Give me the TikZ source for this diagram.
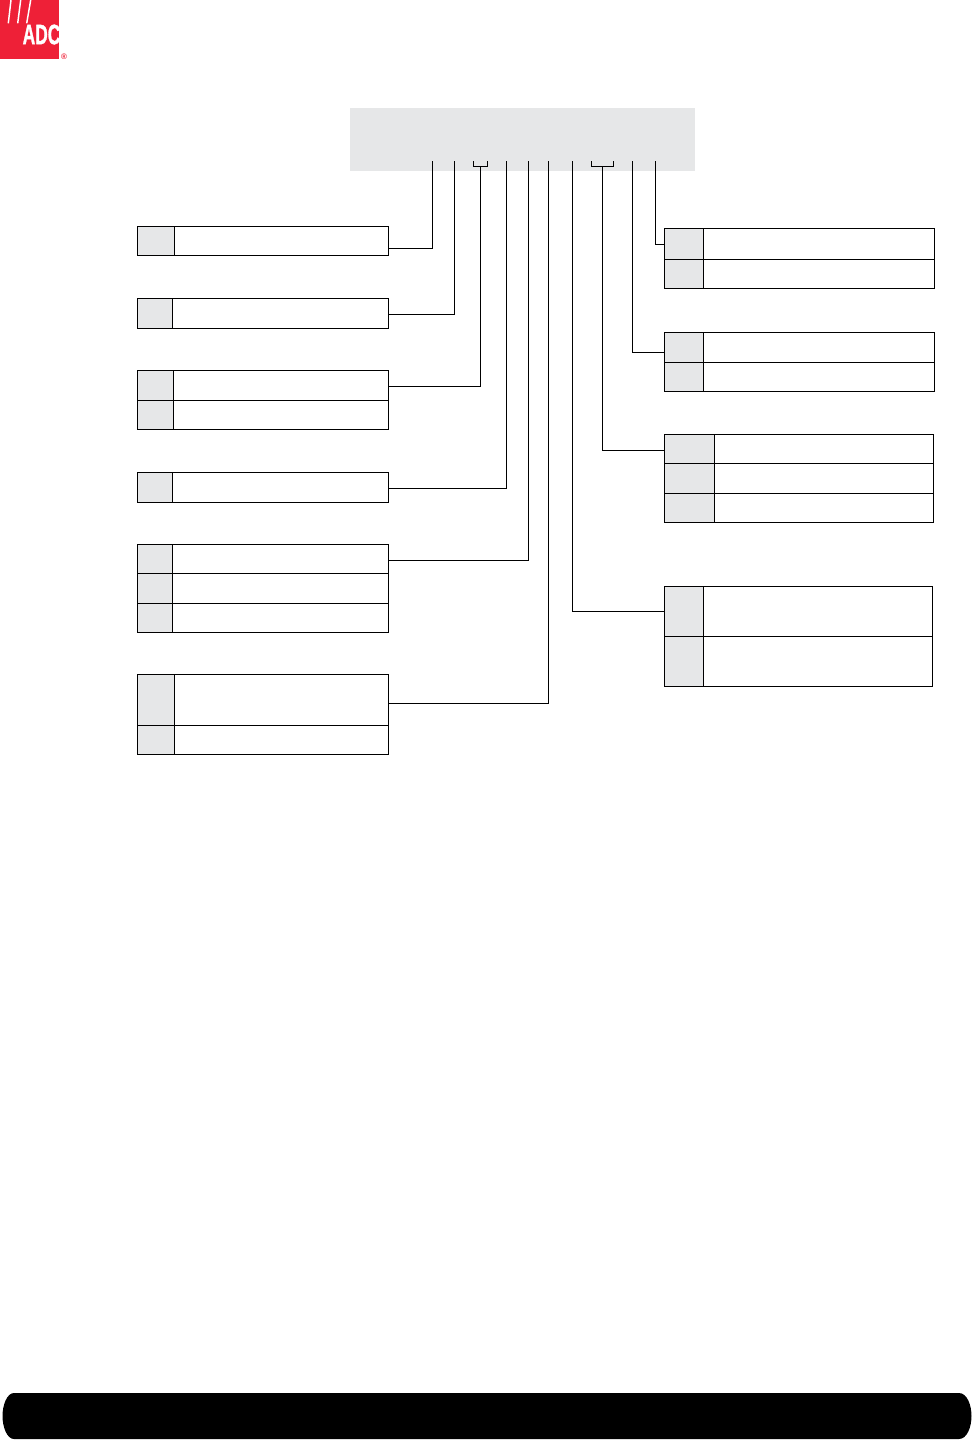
\documentclass[tikz,border=0pt]{standalone}
\usepackage{fontspec}
\setmainfont{Liberation Sans}
\newfontfamily\logofont{Liberation Sans}[BoldFeatures={FakeBold=1.5}]
\usetikzlibrary{positioning}
\definecolor{panelgray}{HTML}{E6E7E8}
\definecolor{logored}{HTML}{EE2037}
\begin{document}
\begin{tikzpicture}[x=0.75pt,y=-0.75pt,line width=0.75pt,
  cell/.style={draw,inner sep=0pt,outer sep=0pt,minimum height=#1*0.75pt},
  keycell/.style={cell=#1,fill=panelgray,minimum width=\keyw*0.75pt},
  valcell/.style={cell=#1,minimum width=\valw*0.75pt},
  link/.style={draw,line cap=rect}]
\useasboundingbox (0,0) rectangle (972,1440);
% logo
\fill[logored] (0,0) rectangle (59,59);
\draw[white,line width=1.1pt] (8.3,23.3) -- (11,0);
\draw[white,line width=1.1pt] (17.7,23.3) -- (20.7,0);
\draw[white,line width=1.1pt] (26.7,23.3) -- (30.7,0);
\node[text=white,inner sep=0pt,font=\logofont\bfseries\fontsize{21}{21}\selectfont,xscale=0.62,anchor=center] (logotext) at (41.5,34.5) {ADC};
\node[text=logored,inner sep=0pt,font=\bfseries\fontsize{6}{6}\selectfont] (logomark) at (64,57) {®};
% panel
\node[fill=panelgray,inner sep=0pt,outer sep=0pt,minimum width=345*0.75pt,minimum height=63*0.75pt,anchor=north west] (panel) at (350,108) {};
\coordinate (p1) at (432.5,161);
\coordinate (p2) at (454.5,161);
\coordinate (p3) at (480.5,166.5);
\coordinate (p4) at (506.5,161);
\coordinate (p5) at (528.5,161);
\coordinate (p6) at (548.5,161);
\coordinate (p7) at (572.5,161);
\coordinate (p8) at (602.5,166.5);
\coordinate (p9) at (632.5,161);
\coordinate (p10) at (655.5,161);
\draw (473.5,161) -- (473.5,166.5) -- (487.5,166.5) -- (487.5,161);
\draw (591.5,161) -- (591.5,166.5) -- (613.5,166.5) -- (613.5,161);
% left column
\def\keyw{37}\def\valw{214}
\node[keycell=29,anchor=north west] (a1k) at (137,226) {};
\node[valcell=29,right=0pt of a1k] (a1v) {};
\def\keyw{35}\def\valw{216}
\node[keycell=30,anchor=north west] (a2k) at (137,298) {};
\node[valcell=30,right=0pt of a2k] (a2v) {};
\def\keyw{36}\def\valw{215}
\node[keycell=30,anchor=north west] (a3k) at (137,370) {};
\node[valcell=30,right=0pt of a3k] (a3v) {};
\node[keycell=29,below=0pt of a3k] (a4k) {};
\node[valcell=29,right=0pt of a4k] (a4v) {};
\def\keyw{35}\def\valw{216}
\node[keycell=30,anchor=north west] (a5k) at (137,472) {};
\node[valcell=30,right=0pt of a5k] (a5v) {};
\node[keycell=29,anchor=north west] (a6k) at (137,544) {};
\node[valcell=29,right=0pt of a6k] (a6v) {};
\node[keycell=30,below=0pt of a6k] (a7k) {};
\node[valcell=30,right=0pt of a7k] (a7v) {};
\node[keycell=29,below=0pt of a7k] (a8k) {};
\node[valcell=29,right=0pt of a8k] (a8v) {};
\def\keyw{37}\def\valw{214}
\node[keycell=51,anchor=north west] (a9k) at (137,674) {};
\node[valcell=51,right=0pt of a9k] (a9v) {};
\node[keycell=29,below=0pt of a9k] (a10k) {};
\node[valcell=29,right=0pt of a10k] (a10v) {};
% right column
\def\keyw{39}\def\valw{231}
\node[keycell=31,anchor=north west] (b1k) at (664.5,228) {};
\node[valcell=31,right=0pt of b1k] (b1v) {};
\node[keycell=29,below=0pt of b1k] (b2k) {};
\node[valcell=29,right=0pt of b2k] (b2v) {};
\node[keycell=30,anchor=north west] (b3k) at (664.5,332) {};
\node[valcell=30,right=0pt of b3k] (b3v) {};
\node[keycell=29,below=0pt of b3k] (b4k) {};
\node[valcell=29,right=0pt of b4k] (b4v) {};
\def\keyw{50}\def\valw{219}
\node[keycell=29,anchor=north west] (b5k) at (664.5,434) {};
\node[valcell=29,right=0pt of b5k] (b5v) {};
\node[keycell=30,below=0pt of b5k] (b6k) {};
\node[valcell=30,right=0pt of b6k] (b6v) {};
\node[keycell=29,below=0pt of b6k] (b7k) {};
\node[valcell=29,right=0pt of b7k] (b7v) {};
\def\keyw{39}\def\valw{229}
\node[keycell=50,anchor=north west] (b8k) at (664.5,586) {};
\node[valcell=50,right=0pt of b8k] (b8v) {};
\node[keycell=50,below=0pt of b8k] (b9k) {};
\node[valcell=50,right=0pt of b9k] (b9v) {};
% connectors
\draw[link] (p1) |- ([yshift=-6pt]a1v.east);
\draw[link] (p2) |- ([yshift=-0.8pt]a2v.east);
\draw[link] (p3) |- ([yshift=-0.8pt]a3v.east);
\draw[link] (p4) |- ([yshift=-0.8pt]a5v.east);
\draw[link] (p5) |- ([yshift=-1.5pt]a6v.east);
\draw[link] (p6) |- ([yshift=-3pt]a9v.east);
\draw[link] (p10) |- ([yshift=-1.1pt]b1k.west);
\draw[link] (p9) |- ([yshift=-3.8pt]b3k.west);
\draw[link] (p8) |- ([yshift=-1.4pt]b5k.west);
\draw[link] (p7) |- (b8k.west);
% footer
\fill (14,1393) -- (959,1393) .. controls (967,1393) and (971.5,1405) .. (971.5,1416) .. controls (971.5,1427) and (967,1439) .. (959,1439) -- (14,1439) .. controls (7,1439) and (2.5,1427) .. (2.5,1416) .. controls (2.5,1405) and (7,1393) .. (14,1393) -- cycle;
\end{tikzpicture}
\end{document}
